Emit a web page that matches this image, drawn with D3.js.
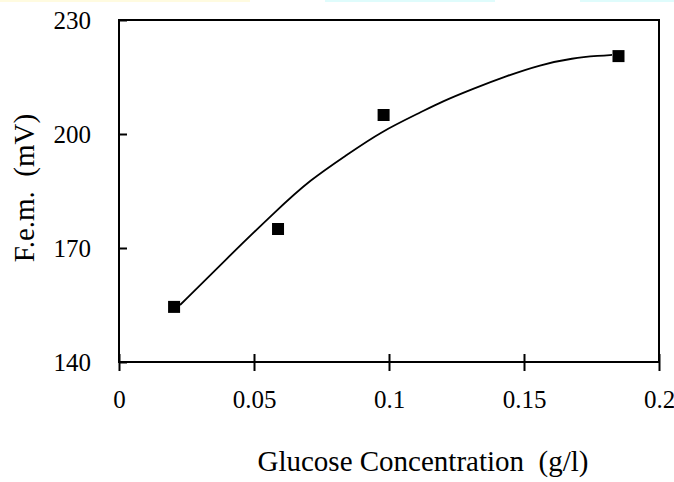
<!DOCTYPE html>
<html>
<head>
<meta charset="utf-8">
<script src="https://cdn.jsdelivr.net/npm/d3@7"></script>
<style>
  body { margin: 0; background: #fff; }
  svg text { font-family: "Liberation Serif", "DejaVu Serif", serif; fill: #000; }
</style>
</head>
<body>
<div id="chart"></div>
<script>
// measured points
var glucose = [0.0204, 0.0589, 0.098, 0.185];
var fem = [154.5, 175, 205, 220.5];

// trend curve
var fitX = [0.0226, 0.0393, 0.0585, 0.0707, 0.0844, 0.0967, 0.1126, 0.1189, 0.1311, 0.1437, 0.1559, 0.1681, 0.1781, 0.1826];
var fitY = [155.0, 166.8, 180.0, 187.9, 194.5, 200.5, 206.0, 208.3, 211.9, 215.3, 218.2, 220.0, 220.6, 220.8];

var xTicks = [0, 0.05, 0.1, 0.15, 0.2];
var xTickLabels = ["0", "0.05", "0.1", "0.15", "0.2"];
var yTicks = [140, 170, 200, 230];

var width = 674, height = 482;
var margin = {top: 20, right: 15, bottom: 120, left: 119};

var svg = d3.select("#chart")
  .append("svg")
    .attr("width", width)
    .attr("height", height);

// faint coloured strip along the top edge of the screenshot
svg.append("rect").attr("x", 0).attr("y", 0).attr("width", 250).attr("height", 2).style("fill", "#fffbe0");
svg.append("rect").attr("x", 325).attr("y", 0).attr("width", 170).attr("height", 2).style("fill", "#dffcfc");
svg.append("rect").attr("x", 580).attr("y", 0).attr("width", 94).attr("height", 2).style("fill", "#dffcfc");

var x = d3.scaleLinear()
    .domain([0, 0.2])
    .range([margin.left, width - margin.right]);
var y = d3.scaleLinear()
    .domain([140, 230])
    .range([height - margin.bottom, margin.top]);

// frame
svg.append("rect")
    .attr("x", x(0))
    .attr("y", y(230))
    .attr("width", x(0.2) - x(0))
    .attr("height", y(140) - y(230))
    .style("fill", "none")
    .style("stroke", "#000")
    .style("stroke-width", 2);

// x axis, ticks crossing the line
var xAxis = svg.append("g")
    .attr("transform", "translate(0," + y(140) + ")")
    .call(d3.axisBottom(x)
      .tickValues(xTicks)
      .tickSize(9)
      .tickPadding(19)
      .tickFormat(function(d, i) { return xTickLabels[i]; }));
xAxis.select(".domain").remove();
xAxis.selectAll(".tick line").attr("y1", -8).style("stroke-width", 2);
xAxis.selectAll(".tick text").style("font-size", "25px").style("font-family", null);

// y axis
var yAxis = svg.append("g")
    .attr("transform", "translate(" + x(0) + ",0)")
    .call(d3.axisLeft(y)
      .tickValues(yTicks)
      .tickSize(9)
      .tickPadding(19)
      .tickFormat(d3.format("d")));
yAxis.select(".domain").remove();
yAxis.selectAll(".tick line").attr("x2", 8).style("stroke-width", 2);
yAxis.selectAll(".tick text").style("font-size", "25px").style("font-family", null);

// trend line
var fit = fitX.map(function(d, i) { return [d, fitY[i]]; });
svg.append("path")
    .datum(fit)
    .attr("d", d3.line()
      .x(function(d) { return x(d[0]); })
      .y(function(d) { return y(d[1]); })
      .curve(d3.curveBasis))
    .style("fill", "none")
    .style("stroke", "#000")
    .style("stroke-width", 1.8);

// markers
var pts = glucose.map(function(d, i) { return [d, fem[i]]; });
svg.selectAll("rect.pt")
    .data(pts)
    .enter()
    .append("rect")
      .attr("class", "pt")
      .attr("x", function(d) { return x(d[0]) - 6; })
      .attr("y", function(d) { return y(d[1]) - 6; })
      .attr("width", 12)
      .attr("height", 12)
      .style("fill", "#000");

// axis titles
svg.append("text")
    .attr("x", 423)
    .attr("y", 471)
    .attr("text-anchor", "middle")
    .style("font-size", "29px")
    .attr("xml:space", "preserve")
    .text("Glucose Concentration  (g/l)");

svg.append("text")
    .attr("transform", "translate(34,188) rotate(-90)")
    .attr("text-anchor", "middle")
    .style("font-size", "29px")
    .attr("xml:space", "preserve")
    .text("F.e.m.  (mV)");
</script>
</body>
</html>
